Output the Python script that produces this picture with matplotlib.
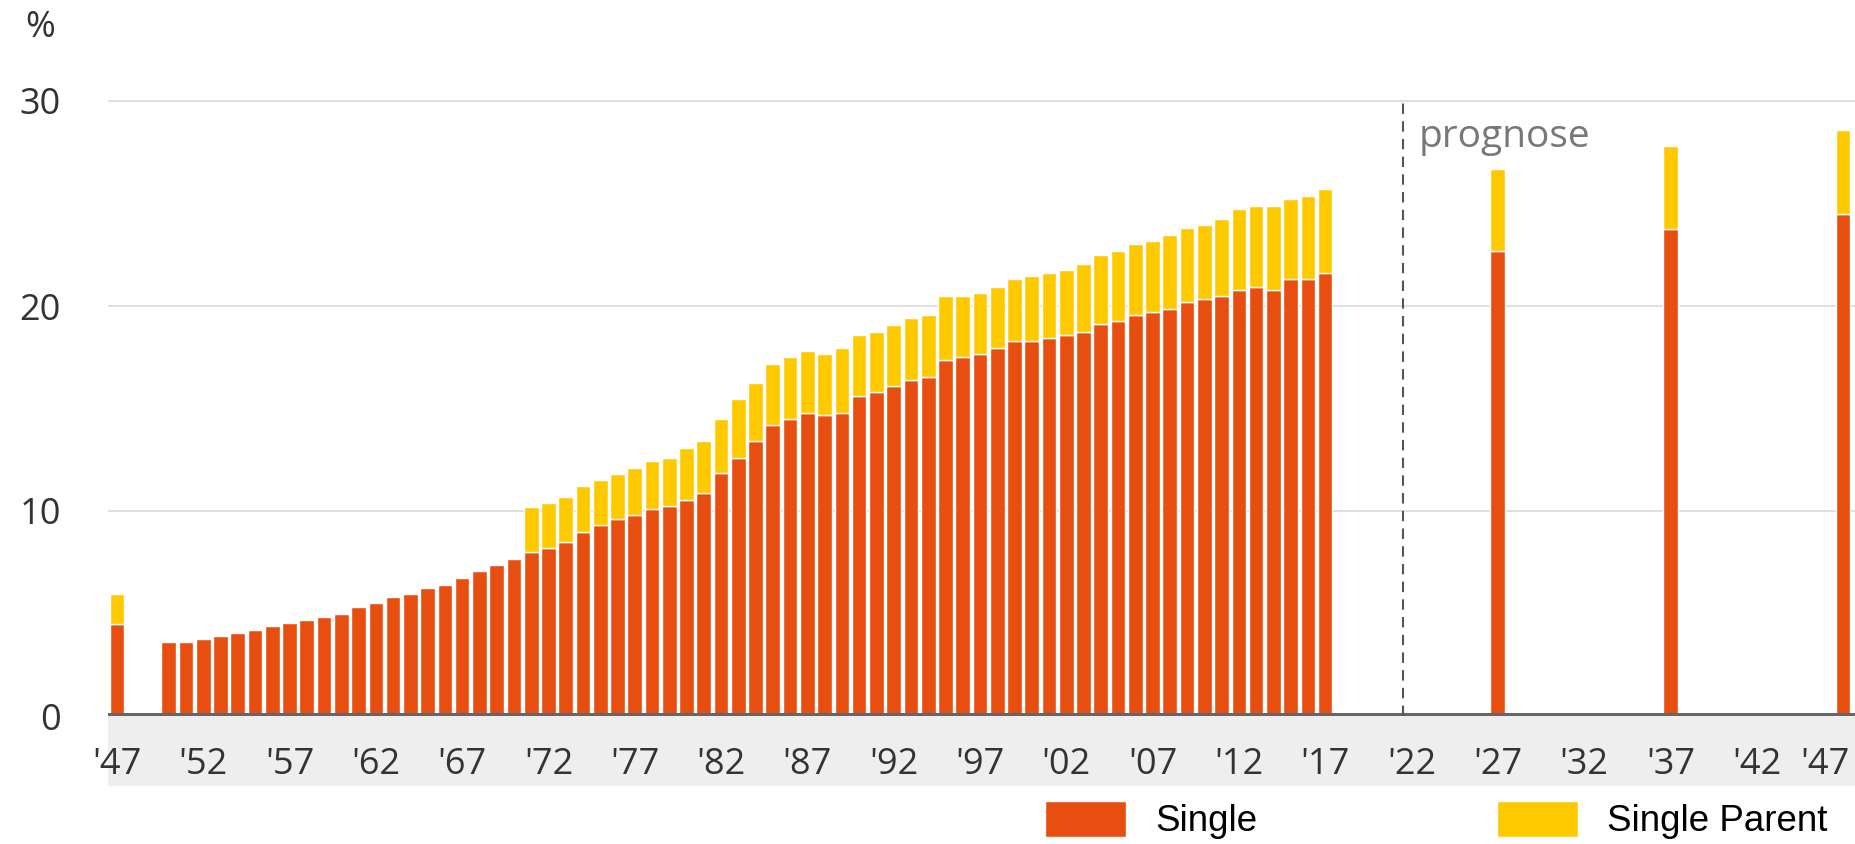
import matplotlib.pyplot as plt
from matplotlib.patches import Rectangle
from matplotlib.transforms import ScaledTranslation

years = [1947] + list(range(1950, 2018)) + [2027, 2037, 2047]

single = [4.5,
          3.6, 3.6, 3.75, 3.9, 4.05, 4.2, 4.4, 4.55, 4.7, 4.85,
          5.0, 5.3, 5.5, 5.8, 5.95, 6.25, 6.4, 6.75, 7.05, 7.35,
          7.65, 8.0, 8.2, 8.5, 9.0, 9.3, 9.6, 9.8, 10.1, 10.25,
          10.55, 10.9, 11.85, 12.6, 13.4, 14.2, 14.5, 14.8, 14.7, 14.8,
          15.6, 15.8, 16.1, 16.4, 16.55, 17.35, 17.5, 17.65, 17.95, 18.3,
          18.3, 18.45, 18.6, 18.75, 19.1, 19.25, 19.55, 19.7, 19.85, 20.2,
          20.35, 20.5, 20.8, 20.95, 20.8, 21.3, 21.3, 21.6,
          22.7, 23.75, 24.5]

single_parent = [1.45,
                 0, 0, 0, 0, 0, 0, 0, 0, 0, 0,
                 0, 0, 0, 0, 0, 0, 0, 0, 0, 0,
                 0, 2.2, 2.2, 2.2, 2.2, 2.2, 2.2, 2.3, 2.35, 2.35,
                 2.5, 2.5, 2.65, 2.85, 2.85, 2.95, 3.0, 3.0, 2.95, 3.15,
                 3.0, 2.95, 2.95, 3.0, 3.0, 3.15, 3.0, 3.0, 3.0, 3.0,
                 3.15, 3.15, 3.15, 3.3, 3.4, 3.45, 3.45, 3.45, 3.6, 3.6,
                 3.6, 3.75, 3.95, 3.95, 4.1, 3.9, 4.05, 4.1,
                 4.0, 4.05, 4.1]

tick_years = list(range(1947, 2048, 5))
tick_labels = ["'" + str(y)[2:] for y in tick_years]
y_ticks = [0, 10, 20, 30]

orange = '#e84e0f'
yellow = '#ffc900'

plt.rcParams['font.family'] = ['Open Sans', 'DejaVu Sans']

fig = plt.figure(figsize=(18.55, 8.44), dpi=100)
ax = fig.add_axes([108 / 1855, (844 - 716) / 844, 1 - 108 / 1855, 635.5 / 844])

# grey band behind the x labels
ax.add_patch(Rectangle((108 / 1855, (844 - 786) / 844), 1 - 108 / 1855, 70 / 844,
                       transform=fig.transFigure, facecolor='#eeeeee', edgecolor='none',
                       clip_on=False, zorder=0))

for y in y_ticks[1:]:
    ax.axhline(y, color='#d6d6d6', lw=1.1, zorder=1)

b1 = ax.bar(years, single, width=0.85, color=orange, edgecolor='white', linewidth=1.0,
            zorder=2, label='Single')
lw2 = [0 if v == 0 else 1.0 for v in single_parent]
b2 = ax.bar(years, single_parent, bottom=single, width=0.85, color=yellow, edgecolor='white',
            linewidth=lw2, zorder=2, label='Single Parent')

ax.axhline(0, color='#666666', lw=4.3, zorder=3)

ax.plot([2021.5, 2021.5], [0, 30], color='#555555', lw=1.5, dashes=(5, 3.5), zorder=3)
ax.text(2022.4, 27.75, 'prognose', color='#777777', fontsize=28, va='baseline', ha='left')

ax.set_xlim(1946.48, 2047.7)
ax.set_ylim(0, 31)
ax.set_xticks(tick_years)
ax.set_xticklabels(tick_labels)
ax.set_yticks(y_ticks)
ax.tick_params(axis='x', length=0, pad=22, labelsize=26, labelcolor='#333333')
ax.tick_params(axis='y', length=0, pad=34, labelsize=26, labelcolor='#333333')
for s in ax.spines.values():
    s.set_visible(False)
ax.patch.set_visible(False)

# keep the last year label inside the picture
last = ax.get_xticklabels()[-1]
last.set_horizontalalignment('right')
last.set_transform(last.get_transform() + ScaledTranslation(0.07, 0, fig.dpi_scale_trans))

fig.text(40 / 1855, 1 - 28 / 844, '%', fontsize=26, color='#333333', ha='center', va='center')

fig.legend(handles=[b1, b2], loc='center left', bbox_to_anchor=(1045 / 1855, 24 / 844),
           ncol=2, frameon=False, borderpad=0, borderaxespad=0,
           prop={'family': 'Liberation Sans', 'size': 26.5},
           handlelength=2.2, handleheight=1.15, handletextpad=0.8, columnspacing=6.5)

fig.savefig('out.png', dpi=100)
